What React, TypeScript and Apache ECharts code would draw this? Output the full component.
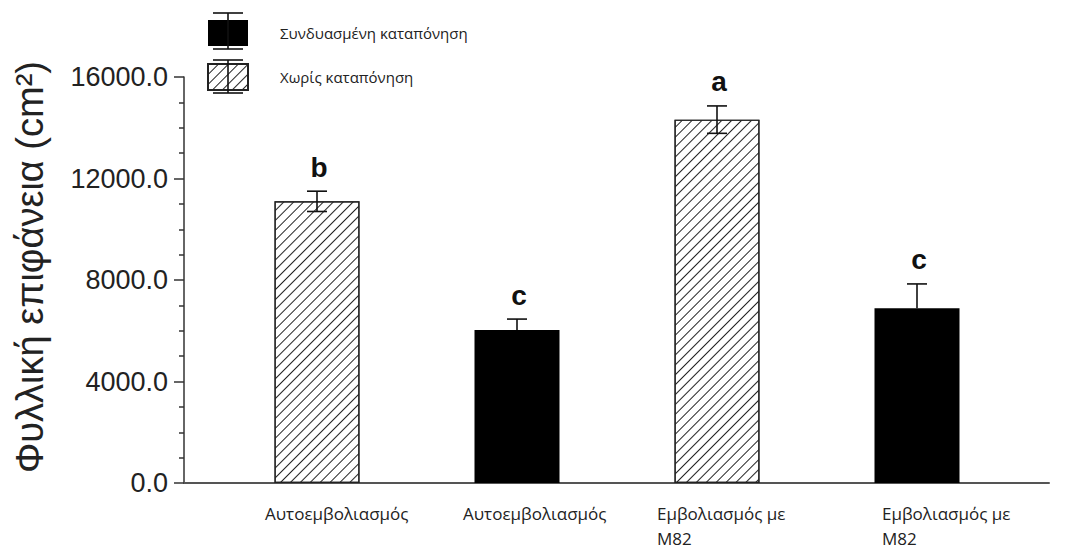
import React, { useEffect, useRef } from "react";
import * as echarts from "echarts";

const categories = ["Αυτοεμβολιασμός", "Αυτοεμβολιασμός", "Εμβολιασμός με\nM82", "Εμβολιασμός με\nM82"];
const combinedStress: (number | null)[] = [null, 6030, null, 6885];
const noStress: (number | null)[] = [11100, null, 14320, null];
const errors = [400, 430, 540, 960];
const letters = ["b", "c", "a", "c"];
const seriesNames = ["Συνδυασμένη καταπόνηση", "Χωρίς καταπόνηση"];
const yTitle = "Φυλλική επιφάνεια (cm²)";
const yMin = 0;
const yMax = 16000;
const yInterval = 4000;

const labelShift = [-52, -54, -60, -35];

export default function App() {
  const ref = useRef<HTMLDivElement>(null);
  useEffect(() => {
    if (!ref.current) return;
    const chart = echarts.init(ref.current, undefined, { renderer: "svg" });
    const hatch = {
      symbol: "rect",
      symbolSize: 1,
      dashArrayX: [1, 0],
      dashArrayY: [1, 6],
      rotation: -Math.PI / 4,
      color: "#222",
    };
    const errData = categories.map((_, i) => [i, (noStress[i] ?? combinedStress[i]) as number, errors[i]]);
    const line = { stroke: "#111", lineWidth: 1.6 };
    chart.setOption({
      animation: false,
      backgroundColor: "#fff",
      grid: [
        { left: 184, right: 26, top: 77, bottom: 66 },
        { left: 217, right: 58, top: 77, bottom: 66 },
      ],
      legend: {
        data: seriesNames,
        orient: "vertical",
        left: 207,
        top: 20,
        padding: 0,
        icon: "rect",
        itemWidth: 40,
        itemHeight: 26,
        itemGap: 17,
        selectedMode: false,
        textStyle: { fontSize: 15, color: "#222", fontFamily: "Open Sans", padding: [0, 0, 0, 27] },
      },
      xAxis: [
        {
          type: "category",
          gridIndex: 0,
          data: categories,
          axisLine: { lineStyle: { color: "#555", width: 2 } },
          axisTick: { show: false },
          axisLabel: { show: false },
        },
        {
          type: "category",
          gridIndex: 1,
          data: categories,
          show: false,
        },
      ],
      yAxis: [
        {
          type: "value",
          gridIndex: 0,
          min: yMin,
          max: yMax,
          interval: yInterval,
          axisLine: { show: true, lineStyle: { color: "#333", width: 1.5 } },
          axisTick: { show: true, length: 10, lineStyle: { color: "#333", width: 1.5 } },
          minorTick: { show: true, splitNumber: 4, length: 5, lineStyle: { color: "#333", width: 1.5 } },
          splitLine: { show: false },
          axisLabel: {
            formatter: (v: number) => v.toFixed(1),
            fontSize: 27,
            color: "#222",
            margin: 16,
            fontFamily: "Liberation Sans",
          },
        },
        { type: "value", gridIndex: 1, min: yMin, max: yMax, interval: yInterval, show: false },
      ],
      series: [
        {
          name: seriesNames[0],
          type: "bar",
          xAxisIndex: 1,
          yAxisIndex: 1,
          data: combinedStress,
          barWidth: 85,
          barGap: "-100%",
          itemStyle: { color: "#000" },
        },
        {
          name: seriesNames[1],
          type: "bar",
          xAxisIndex: 1,
          yAxisIndex: 1,
          data: noStress,
          barWidth: 85,
          barGap: "-100%",
          itemStyle: { color: "#fff", borderColor: "#222", borderWidth: 1.2, decal: hatch },
        },
        {
          name: "err",
          type: "custom",
          xAxisIndex: 1,
          yAxisIndex: 1,
          z: 5,
          encode: { x: 0, y: 1 },
          data: errData,
          renderItem: (params: any, api: any) => {
            const idx = params.dataIndex;
            const i = api.value(0);
            const v = api.value(1);
            const e = api.value(2);
            const top = api.coord([i, v + e]);
            const mid = api.coord([i, v]);
            const bot = api.coord([i, v - e]);
            const h = 10;
            const hatched = noStress[idx] != null;
            const children: any[] = [
              { type: "line", shape: { x1: top[0], y1: top[1], x2: top[0], y2: hatched ? bot[1] : mid[1] }, style: line },
              { type: "line", shape: { x1: top[0] - h, y1: top[1], x2: top[0] + h, y2: top[1] }, style: line },
            ];
            if (hatched) {
              children.push({ type: "line", shape: { x1: bot[0] - h, y1: bot[1], x2: bot[0] + h, y2: bot[1] }, style: line });
            }
            children.push({
              type: "text",
              x: top[0] + 2,
              y: top[1] - 10,
              style: {
                text: letters[idx],
                font: 'bold 28px "Liberation Sans"',
                fill: "#111",
                textAlign: "center",
                textVerticalAlign: "bottom",
              },
            });
            return { type: "group", children };
          },
        },
      ],
    });

    const y0 = chart.convertToPixel({ yAxisIndex: 1 }, 0) as number;
    const labels = categories.map((c, i) => {
      const x = chart.convertToPixel({ xAxisIndex: 1 }, i) as number;
      return {
        type: "text",
        x: x + labelShift[i],
        y: y0 + 18,
        style: {
          text: c,
          font: '17px "Open Sans"',
          fill: "#222",
          textAlign: "left",
          textVerticalAlign: "top",
          lineHeight: 25,
        },
      };
    });
    const whisk = (x: number, y1: number, y2: number) => [
      { type: "line", z: 100, shape: { x1: x, y1, x2: x, y2 }, style: line },
      { type: "line", z: 100, shape: { x1: x - 15, y1, x2: x + 15, y2: y1 }, style: line },
      { type: "line", z: 100, shape: { x1: x - 15, y1: y2, x2: x + 15, y2 }, style: line },
    ];
    chart.setOption({
      graphic: [
        {
          type: "text",
          x: 30,
          y: 267,
          rotation: Math.PI / 2,
          style: {
            text: yTitle,
            font: '38px "Liberation Sans"',
            fill: "#222",
            textAlign: "center",
            textVerticalAlign: "middle",
          },
        },
        ...labels,
        ...whisk(228, 13, 49),
        ...whisk(228, 60, 93),
      ],
    });
    return () => chart.dispose();
  }, []);
  return <div ref={ref} style={{ position: "fixed", left: 0, top: 0, width: 1075, height: 549 }} />;
}
